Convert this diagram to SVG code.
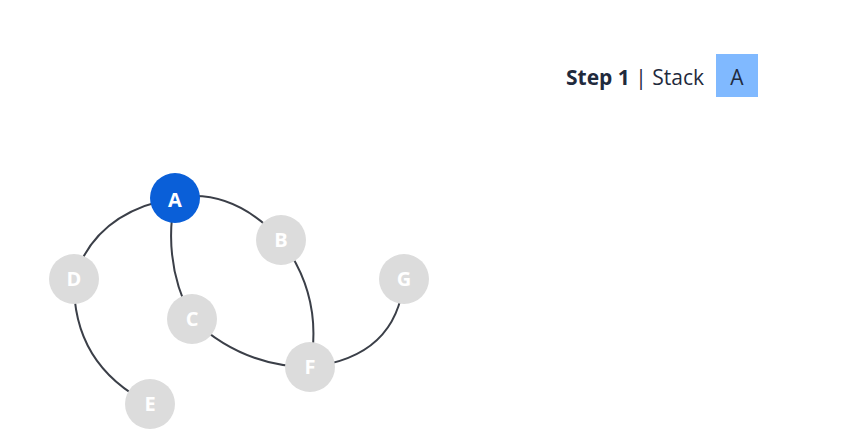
<svg xmlns="http://www.w3.org/2000/svg" width="859" height="448" viewBox="0 0 859 448">
<style>
.edge{fill:none;stroke:#3b3f48;stroke-width:2}
.node{fill:#dcdcdc}
.cur{fill:#0a5fd8}
.lbl{font-family:"Open Sans","Noto Sans",sans-serif;font-weight:700;font-size:20px;fill:#ffffff;text-anchor:middle}
.hdr{font-family:"Open Sans","Noto Sans",sans-serif;font-size:21px;fill:#1f2a3d}
</style>
<rect width="859" height="448" fill="#ffffff"/>
<g id="header">
<text class="hdr" x="566" y="85"><tspan font-weight="700">Step 1</tspan> | Stack</text>
</g>
<g id="stack">
<rect x="716" y="54" width="42" height="43" fill="#80b9ff"/>
<text class="hdr" x="737" y="85" text-anchor="middle">A</text>
</g>
<g id="connectors">
<path class="edge" d="M175,198 Q95,212 74,279"/>
<path class="edge" d="M175,198 Q232,187 281,240"/>
<path class="edge" d="M175,198 Q162,262 192,319"/>
<path class="edge" d="M281,240 Q324,297 310,367"/>
<path class="edge" d="M192,319 Q243,367 310,367"/>
<path class="edge" d="M310,367 Q397,357 404,279"/>
<path class="edge" d="M74,279 Q72,365 150,404"/>
</g>
<g id="node-A"><circle class="cur" cx="175" cy="198" r="25"/><text class="lbl" x="175" y="207">A</text></g>
<g id="node-B"><circle class="node" cx="281" cy="240" r="25"/><text class="lbl" x="281" y="247">B</text></g>
<g id="node-C"><circle class="node" cx="192" cy="319" r="25"/><text class="lbl" x="192" y="326">C</text></g>
<g id="node-D"><circle class="node" cx="74" cy="279" r="25"/><text class="lbl" x="74" y="286">D</text></g>
<g id="node-E"><circle class="node" cx="150" cy="404" r="25"/><text class="lbl" x="150" y="411">E</text></g>
<g id="node-F"><circle class="node" cx="310" cy="367" r="25"/><text class="lbl" x="310" y="374">F</text></g>
<g id="node-G"><circle class="node" cx="404" cy="279" r="25"/><text class="lbl" x="404" y="286">G</text></g>
</svg>
